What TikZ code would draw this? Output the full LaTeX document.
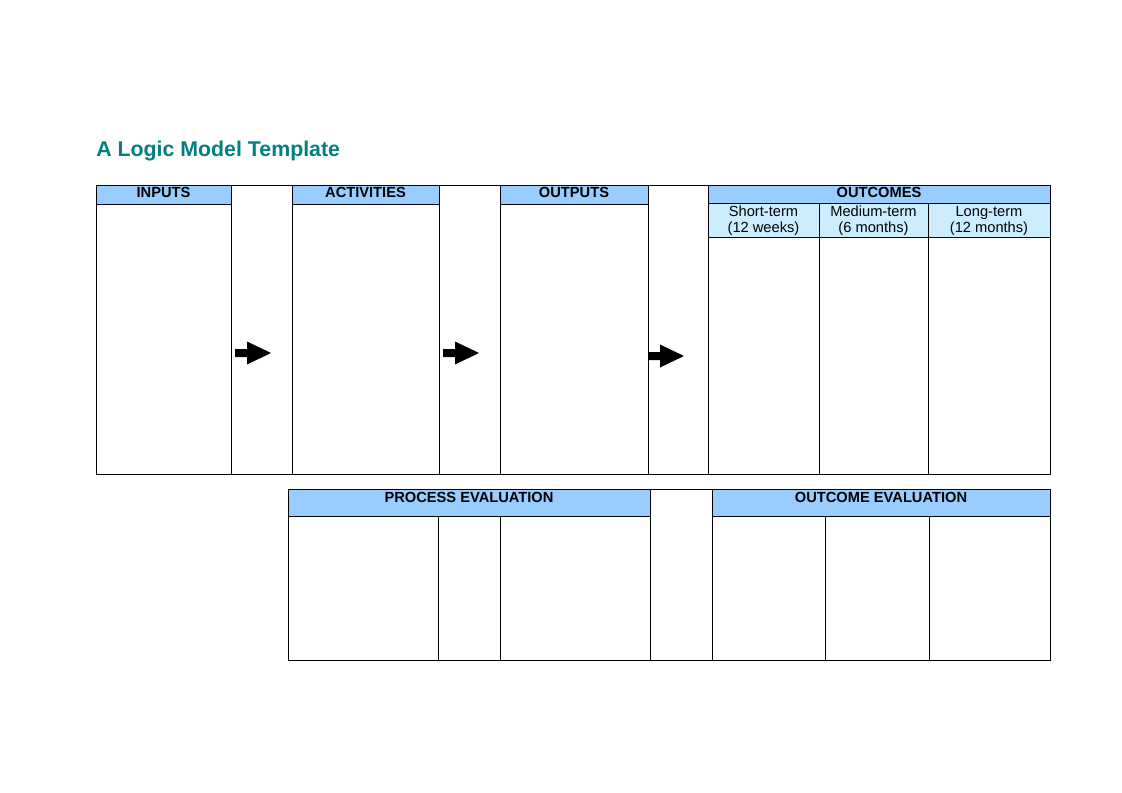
\documentclass[tikz,border=0pt]{standalone}
\usepackage{fontspec}
\setmainfont{Liberation Sans}
\definecolor{hdrblue}{HTML}{99CCFF}
\definecolor{subblue}{HTML}{CCECFF}
\definecolor{titleteal}{HTML}{008080}
\tikzset{
	hdr/.style={font=\fontsize{11}{13}\selectfont\bfseries, anchor=base, inner sep=0pt},
	subhdr/.style={font=\fontsize{11}{13}\selectfont, anchor=base, inner sep=0pt},
	cell/.style={line width=0.75pt},
}
\begin{document}
\begin{tikzpicture}[x=0.75pt,y=-0.75pt]
		\useasboundingbox (0,0) rectangle (1122,793);
		\node[anchor=base west, inner sep=0pt, text=titleteal, font=\fontsize{16}{19}\selectfont\bfseries] (title) at (96,156) {A Logic Model Template};
		% top table
		\foreach \a/\b in {96/231,292/439,500/648}{
			\filldraw[cell, fill=hdrblue] (\a,185) rectangle (\b,204);
		}
		\filldraw[cell, fill=hdrblue] (708,185) rectangle (1050,203);
		\filldraw[cell, fill=subblue] (708,203) rectangle (1050,237);
		\draw[cell] (96,185) rectangle (1050,474);
		\foreach \i in {231,292,439,500,648,708}{
			\draw[cell] (\i,185) -- (\i,474);
		}
		\foreach \i in {819,928}{
			\draw[cell] (\i,203) -- (\i,474);
		}
		\node[hdr] (inputs) at (163.5,197.5) {INPUTS};
		\node[hdr] (activities) at (365.5,197.5) {ACTIVITIES};
		\node[hdr] (outputs) at (574,197.5) {OUTPUTS};
		\node[hdr] (outcomes) at (879,197.5) {OUTCOMES};
		\foreach \x/\t/\s/\n in {763.5/Short-term/(12 weeks)/short,873.5/Medium-term/(6 months)/medium,989/Long-term/(12 months)/long}{
			\node[subhdr] (\n a) at (\x,216) {\t};
			\node[subhdr] (\n b) at (\x,232.5) {\s};
		}
		% arrows
		\foreach \x/\y in {235/353,443/353,648/356}{
			\fill (\x,\y-4) -- ++(12,0) -- ++(0,-7.5) -- ++(24,11.5) -- ++(-24,11.5) -- ++(0,-7.5) -- ++(-12,0) -- cycle;
		}
		% bottom table
		\filldraw[cell, fill=hdrblue] (288,489) rectangle (650,516);
		\filldraw[cell, fill=hdrblue] (712,489) rectangle (1050,516);
		\draw[cell] (288,489) rectangle (1050,660);
		\foreach \i in {438,500,825,929}{
			\draw[cell] (\i,516) -- (\i,660);
		}
		\foreach \i in {650,712}{
			\draw[cell] (\i,489) -- (\i,660);
		}
		\node[hdr] (process) at (469,502) {PROCESS EVALUATION};
		\node[hdr] (outcomeeval) at (881,502) {OUTCOME EVALUATION};
	\end{tikzpicture}
\end{document}
